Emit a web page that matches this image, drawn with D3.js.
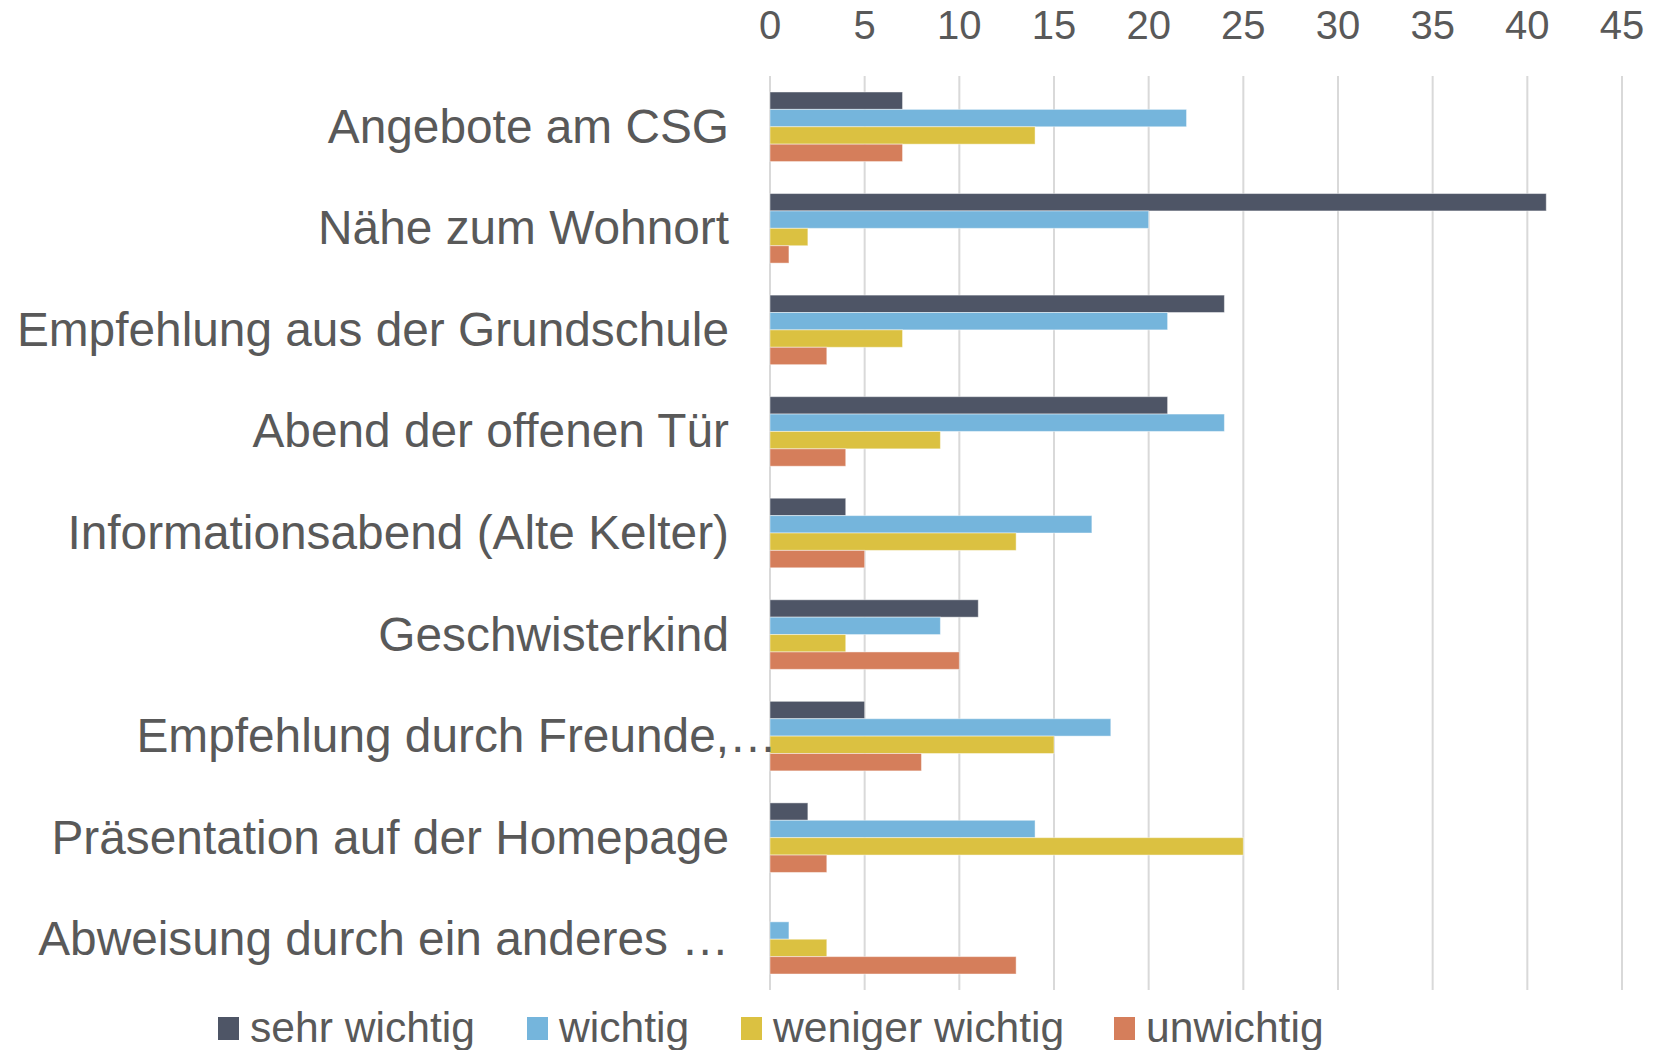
<!DOCTYPE html>
<html>
<head>
<meta charset="utf-8">
<script src="https://cdn.jsdelivr.net/npm/d3@7"></script>
<style>
  body { margin: 0; background: #fff; }
  text { font-family: "Liberation Sans", Arial, sans-serif; fill: #595959; }
</style>
</head>
<body>
<div id="my_dataviz"></div>
<script>
// categories, top to bottom
var categories = [
  "Angebote am CSG",
  "Nähe zum Wohnort",
  "Empfehlung aus der Grundschule",
  "Abend der offenen Tür",
  "Informationsabend (Alte Kelter)",
  "Geschwisterkind",
  "Empfehlung durch Freunde,…",
  "Präsentation auf der Homepage",
  "Abweisung durch ein anderes …"
];

var seriesNames = ["sehr wichtig", "wichtig", "weniger wichtig", "unwichtig"];
var seriesColors = ["#4e5566", "#75b5dc", "#dbc141", "#d57e5b"];

// values
var sehrWichtig    = [7, 41, 24, 21, 4, 11, 5, 2, 0];
var wichtig        = [22, 20, 21, 24, 17, 9, 18, 14, 1];
var wenigerWichtig = [14, 2, 7, 9, 13, 4, 15, 25, 3];
var unwichtig      = [7, 1, 3, 4, 5, 10, 8, 3, 13];

var tickValues = [0, 5, 10, 15, 20, 25, 30, 35, 40, 45];

var allSeries = [sehrWichtig, wichtig, wenigerWichtig, unwichtig];

// set the dimensions and margins of the graph
var W = 1665, H = 1050;
var margin = {top: 76, right: 43, bottom: 60, left: 770},
    width = W - margin.left - margin.right,
    height = H - margin.top - margin.bottom;

var svg = d3.select("#my_dataviz")
  .append("svg")
    .attr("width", W)
    .attr("height", H)
  .append("g")
    .attr("transform", "translate(" + margin.left + "," + margin.top + ")");

var x = d3.scaleLinear()
  .domain([0, 45])
  .range([0, 852]);

var y = d3.scaleBand()
  .domain(categories)
  .range([0, height])
  .paddingInner(0.315)
  .paddingOuter(0.1575);

var ySub = d3.scaleBand()
  .domain(seriesNames)
  .range([0, y.bandwidth()]);

// gridlines
svg.append("g")
  .selectAll("line")
  .data(tickValues)
  .enter()
  .append("line")
    .attr("x1", function(d) { return x(d); })
    .attr("x2", function(d) { return x(d); })
    .attr("y1", 0)
    .attr("y2", height)
    .style("stroke", "#d9d9d9")
    .style("stroke-width", 2);

// top axis labels
svg.append("g")
  .selectAll("text")
  .data(tickValues)
  .enter()
  .append("text")
    .attr("x", function(d) { return x(d); })
    .attr("y", 39 - margin.top)
    .attr("text-anchor", "middle")
    .style("font-size", "40px")
    .text(function(d) { return d; });

// bars
var groups = svg.append("g")
  .selectAll("g")
  .data(categories)
  .enter()
  .append("g")
    .attr("transform", function(d) { return "translate(0," + y(d) + ")"; });

groups.selectAll("rect")
  .data(function(d, i) {
    return seriesNames.map(function(s, j) { return {name: s, color: seriesColors[j], value: allSeries[j][i]}; });
  })
  .enter()
  .filter(function(d) { return d.value > 0; })
  .append("rect")
    .attr("x", x(0))
    .attr("y", function(d) { return ySub(d.name); })
    .attr("width", function(d) { return x(d.value) - x(0); })
    .attr("height", ySub.bandwidth())
    .style("fill", function(d) { return d.color; })
    .style("stroke", "rgba(255,255,255,0.45)")
    .style("stroke-width", 1);

// category labels, right aligned left of the axis
// (an ellipsis glued to a comma hangs past the edge, as in the original)
var labelEnd = -41;
svg.append("g")
  .selectAll("text")
  .data(categories)
  .enter()
  .append("text")
    .attr("x", labelEnd)
    .attr("y", function(d) { return y(d) + y.bandwidth() / 2 + 16; })
    .attr("text-anchor", "end")
    .style("font-size", "47.8px")
    .text(function(d) { return d; })
    .each(function(d) {
      if (/,…$/.test(d)) {
        var full = this.getComputedTextLength();
        d3.select(this).text(d.slice(0, -1));
        var part = this.getComputedTextLength();
        d3.select(this).text(d).attr("x", labelEnd + (full - part));
      }
    });

// legend
var legendX = [218, 527, 741, 1114];
var legend = d3.select("svg").append("g");
var items = legend.selectAll("g")
  .data(seriesNames)
  .enter()
  .append("g")
    .attr("transform", function(d, i) { return "translate(" + legendX[i] + ",1017)"; });
items.append("rect")
  .attr("width", 21)
  .attr("height", 23)
  .style("fill", function(d, i) { return seriesColors[i]; });
items.append("text")
  .attr("x", 32)
  .attr("y", 25)
  .style("font-size", "42.6px")
  .text(function(d) { return d; });
</script>
</body>
</html>
